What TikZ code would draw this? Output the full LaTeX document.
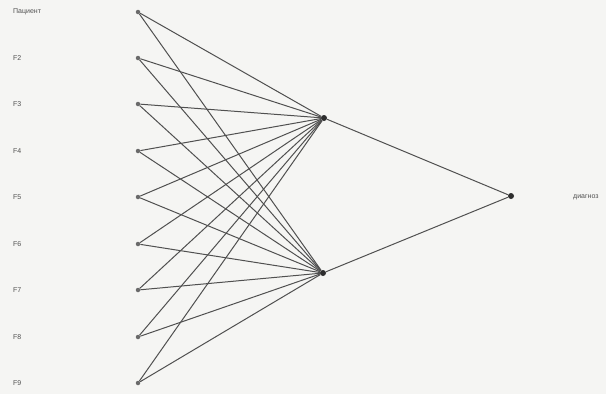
\documentclass[tikz,border=0pt]{standalone}
\usepackage{fontspec}
\setmainfont{Liberation Sans}
\usepackage{xcolor}
\definecolor{paper}{HTML}{F5F5F3}
\definecolor{ink}{HTML}{505050}

\begin{document}
\begin{tikzpicture}[
  x=1pt, y=-1pt,
  inp/.style={circle, fill=ink!85, inner sep=0pt, minimum size=4.5pt},
  hid/.style={circle, fill=ink!120, inner sep=0pt, minimum size=6pt},
  lbl/.style={anchor=west, inner sep=0pt, text=ink, font=\fontsize{7}{8}\selectfont},
  link/.style={draw=ink, line width=1pt}
]
  \fill[paper] (0,0) rectangle (606,394);
  \useasboundingbox (0,0) rectangle (606,394);

  % inputs
  \node[inp] (f1) at (138,12) {};
  \node[inp] (f2) at (138,58) {};
  \node[inp] (f3) at (138,104) {};
  \node[inp] (f4) at (138,151) {};
  \node[inp] (f5) at (138,197) {};
  \node[inp] (f6) at (138,244) {};
  \node[inp] (f7) at (138,290) {};
  \node[inp] (f8) at (138,337) {};
  \node[inp] (f9) at (138,383) {};

  \node[lbl] (l1) at (13,12) {Пациент};
  \node[lbl] (l2) at (13,58) {F2};
  \node[lbl] (l3) at (13,104) {F3};
  \node[lbl] (l4) at (13,151) {F4};
  \node[lbl] (l5) at (13,197) {F5};
  \node[lbl] (l6) at (13,244) {F6};
  \node[lbl] (l7) at (13,290) {F7};
  \node[lbl] (l8) at (13,337) {F8};
  \node[lbl] (l9) at (13,383) {F9};

  % hidden and output
  \node[hid] (h1) at (324,118) {};
  \node[hid] (h2) at (323,273) {};
  \node[hid] (out) at (511,196) {};
  \node[lbl] (dx) at (573,197) {диагноз};

  \draw[link] (f1) -- (h1);
  \draw[link] (f1) -- (h2);
  \draw[link] (f2) -- (h1);
  \draw[link] (f2) -- (h2);
  \draw[link] (f3) -- (h1);
  \draw[link] (f3) -- (h2);
  \draw[link] (f4) -- (h1);
  \draw[link] (f4) -- (h2);
  \draw[link] (f5) -- (h1);
  \draw[link] (f5) -- (h2);
  \draw[link] (f6) -- (h1);
  \draw[link] (f6) -- (h2);
  \draw[link] (f7) -- (h1);
  \draw[link] (f7) -- (h2);
  \draw[link] (f8) -- (h1);
  \draw[link] (f8) -- (h2);
  \draw[link] (f9) -- (h1);
  \draw[link] (f9) -- (h2);
  \draw[link] (h1) -- (out);
  \draw[link] (h2) -- (out);
\end{tikzpicture}
\end{document}
